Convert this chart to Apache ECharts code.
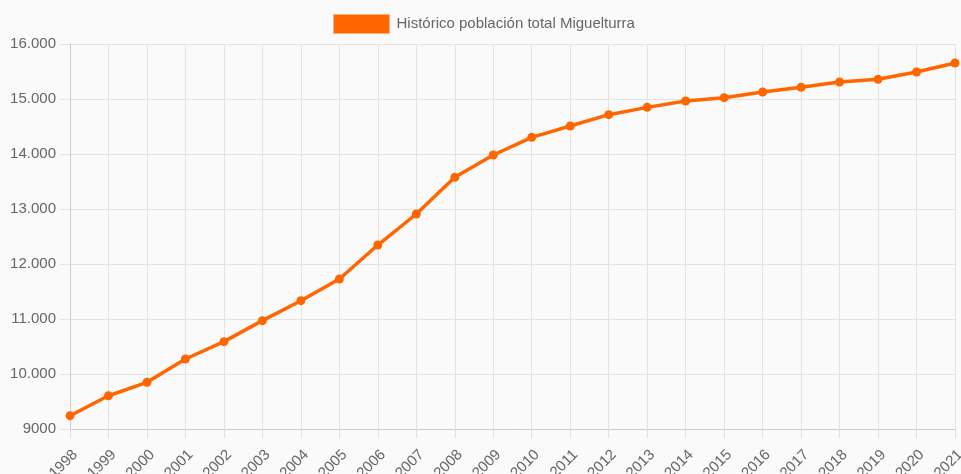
<!DOCTYPE html>
<html><head><meta charset="utf-8">
<script src="https://cdn.jsdelivr.net/npm/echarts@6/dist/echarts.min.js"></script>
<style>html,body{margin:0;padding:0;background:#fafafa;}#c{width:961px;height:474px;}</style>
</head><body><div id="c"></div>
<script>
const years = ['1998','1999','2000','2001','2002','2003','2004','2005','2006','2007','2008','2009','2010','2011','2012','2013','2014','2015','2016','2017','2018','2019','2020','2021'];
const population = [9242,9605,9849,10273,10588,10970,11333,11727,12345,12909,13576,13982,14303,14509,14715,14848,14964,15024,15127,15212,15309,15358,15491,15655];
const seriesName = 'Histórico población total Miguelturra';
const yTicks = [9000,16000,1000];

function fmt(v){ return v >= 10000 ? String(v).replace(/\B(?=(\d{3})+(?!\d))/g,'.') : String(v); }

const FONT = 'Arial, "Liberation Sans", sans-serif';
const chart = echarts.init(document.getElementById('c'), null, {renderer:'canvas'});
chart.setOption({
  backgroundColor:'#fafafa',
  animation:false,
  textStyle:{fontFamily:FONT},
  legend:{
    top:14, left:333, itemWidth:56, itemHeight:19, itemGap:10, padding:0,
    icon:'rect',
    textStyle:{color:'#666', fontSize:15, fontFamily:FONT, padding:[0,0,0,2]},
    data:[{name:seriesName, itemStyle:{color:'#ff6600', borderColor:'#ffb07a', borderWidth:1}}]
  },
  grid:{left:70, right:6, top:44, bottom:45, containLabel:false, outerBoundsMode:'none'},
  xAxis:{
    type:'category', data:years, boundaryGap:false,
    axisLine:{lineStyle:{color:'#cccccc'}},
    axisTick:{show:true, length:9, lineStyle:{color:'#e0e0e0'}, alignWithLabel:true},
    axisLabel:{rotate:45, color:'#666', fontSize:15, fontFamily:FONT, margin:18, interval:0, verticalAlign:'top', align:'right', hideOverlap:false},
    splitLine:{show:true, lineStyle:{color:'#e3e3e3'}}
  },
  yAxis:{
    type:'value', min:yTicks[0], max:yTicks[1], interval:yTicks[2],
    axisLine:{show:true, lineStyle:{color:'#cccccc'}},
    axisTick:{show:true, length:10, lineStyle:{color:'#e3e3e3'}},
    axisLabel:{color:'#666', fontSize:15, fontFamily:FONT, margin:14, formatter:fmt},
    splitLine:{show:true, lineStyle:{color:'#e3e3e3'}}
  },
  series:[{
    name:seriesName, type:'line', data:population,
    symbol:'circle', symbolSize:9,
    lineStyle:{color:'#ff6600', width:3.5},
    itemStyle:{color:'#ff6600'}
  }]
});
</script></body></html>
